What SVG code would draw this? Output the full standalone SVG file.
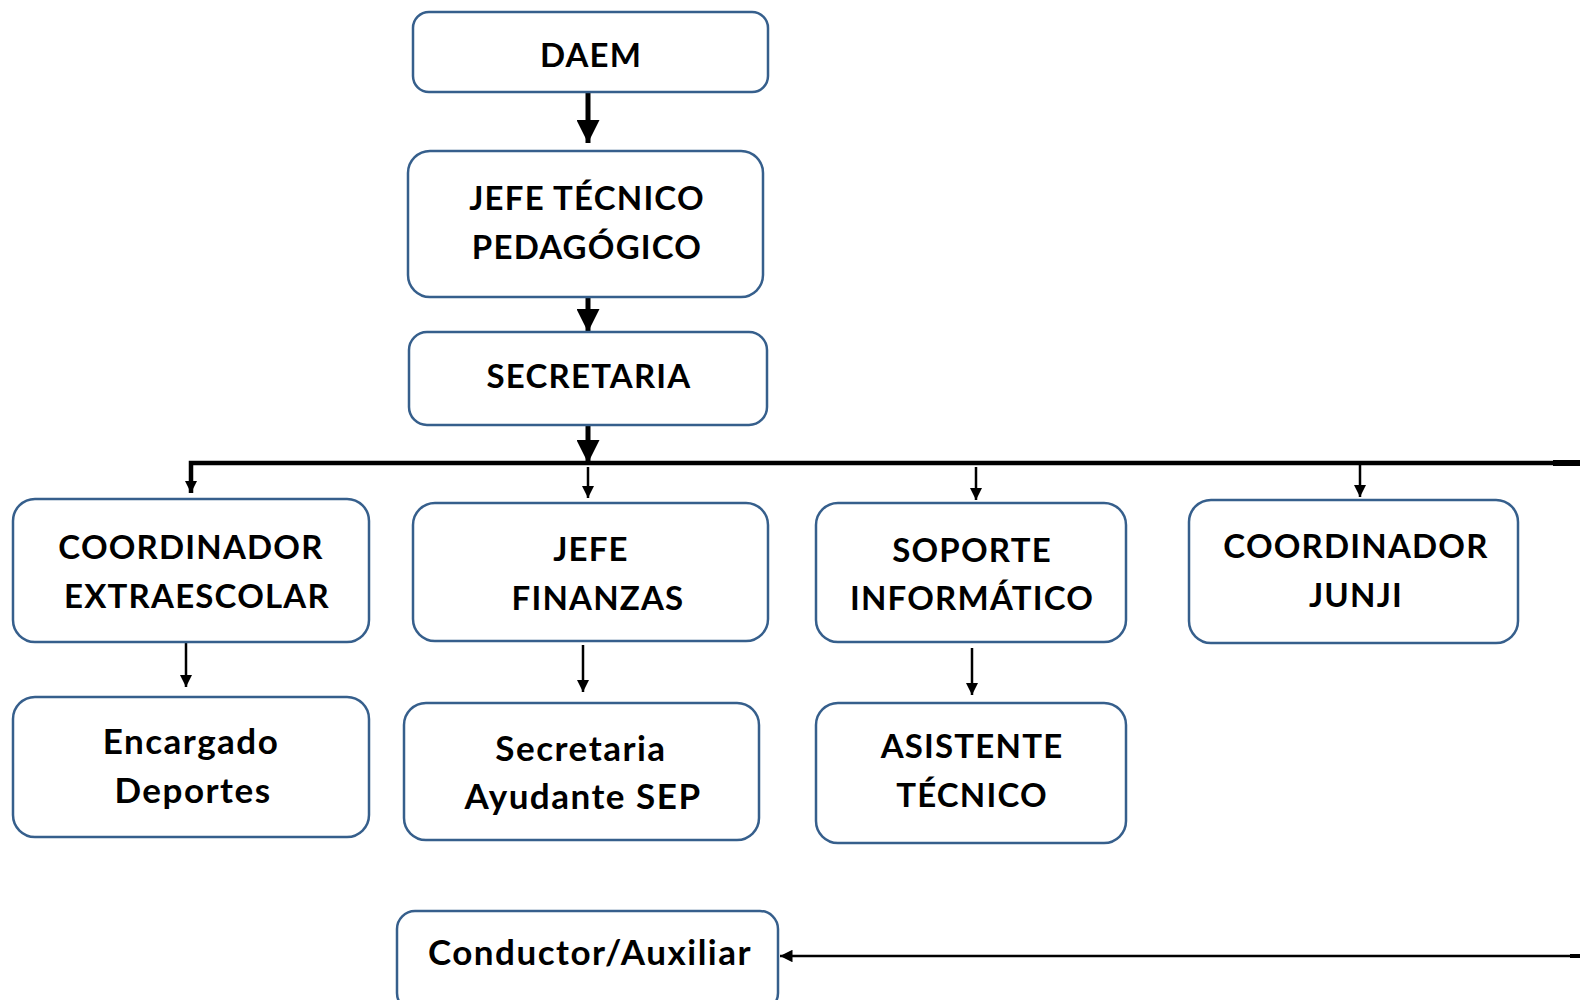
<svg xmlns="http://www.w3.org/2000/svg" width="1580" height="1000" viewBox="0 0 1580 1000">
<style>
.box{fill:#ffffff;stroke:#365f8c;stroke-width:2.5}
.t{font-family:Lato,"Open Sans","Liberation Sans",sans-serif;font-weight:700;font-size:33px;fill:#000;text-anchor:middle;letter-spacing:1.2px}
.l{font-size:35px;letter-spacing:1.5px}
.thick{stroke:#000;stroke-width:5;fill:none}
.thin{stroke:#000;stroke-width:2.5;fill:none}
</style>
<defs>
<marker id="big" viewBox="0 0 10 10" refX="10" refY="5" markerWidth="4.6" markerHeight="4.6" markerUnits="strokeWidth" orient="auto">
<path d="M0,0 L10,5 L0,10 z" fill="#000"/>
</marker>
<marker id="small" viewBox="0 0 10 10" refX="10" refY="5" markerWidth="5" markerHeight="5" markerUnits="strokeWidth" orient="auto">
<path d="M0,0 L10,5 L0,10 z" fill="#000"/>
</marker>
</defs>
<rect width="1580" height="1000" fill="#ffffff"/>
<g id="connectors">
<line class="thick" x1="588" y1="92" x2="588" y2="143" marker-end="url(#big)"/>
<line class="thick" x1="588" y1="283" x2="588" y2="332" marker-end="url(#big)"/>
<line class="thick" x1="588" y1="422" x2="588" y2="463" marker-end="url(#big)"/>
<polyline points="191,493 191,463 1580,463" style="stroke:#000;stroke-width:4.5;fill:none"/>
<line x1="1553" y1="463" x2="1580" y2="463" style="stroke:#000;stroke-width:6"/>
<line class="thin" x1="191" y1="463" x2="191" y2="493" marker-end="url(#small)"/>
<line class="thin" x1="588" y1="467" x2="588" y2="498" marker-end="url(#small)"/>
<line class="thin" x1="976" y1="467" x2="976" y2="500" marker-end="url(#small)"/>
<line class="thin" x1="1360" y1="465" x2="1360" y2="497" marker-end="url(#small)"/>
<line class="thin" x1="186" y1="640" x2="186" y2="687" marker-end="url(#small)"/>
<line class="thin" x1="583" y1="645" x2="583" y2="692" marker-end="url(#small)"/>
<line class="thin" x1="972" y1="648" x2="972" y2="695" marker-end="url(#small)"/>
<line class="thin" x1="1580" y1="956" x2="780" y2="956" marker-end="url(#small)"/>
<line x1="1570" y1="956" x2="1580" y2="956" style="stroke:#000;stroke-width:4"/>
</g>
<g id="daem">
<rect class="box" x="413" y="12" width="355" height="80" rx="16"/>
<text class="t" x="591" y="67">DAEM</text>
</g>
<g id="jefe-tecnico">
<rect class="box" x="408" y="151" width="355" height="146" rx="22"/>
<text class="t" x="587" y="210">JEFE TÉCNICO</text>
<text class="t" x="587" y="259">PEDAGÓGICO</text>
</g>
<g id="secretaria">
<rect class="box" x="409" y="332" width="358" height="93" rx="18"/>
<text class="t" x="589" y="388">SECRETARIA</text>
</g>
<g id="coord-extra">
<rect class="box" x="13" y="499" width="356" height="143" rx="22"/>
<text class="t" x="191" y="559">COORDINADOR</text>
<text class="t" x="197" y="608">EXTRAESCOLAR</text>
</g>
<g id="jefe-finanzas">
<rect class="box" x="413" y="503" width="355" height="138" rx="22"/>
<text class="t" x="591" y="561">JEFE</text>
<text class="t" x="598" y="610">FINANZAS</text>
</g>
<g id="soporte">
<rect class="box" x="816" y="503" width="310" height="139" rx="22"/>
<text class="t" x="972" y="562">SOPORTE</text>
<text class="t" x="972" y="610">INFORMÁTICO</text>
</g>
<g id="coord-junji">
<rect class="box" x="1189" y="500" width="329" height="143" rx="22"/>
<text class="t" x="1356" y="558">COORDINADOR</text>
<text class="t" x="1356" y="607">JUNJI</text>
</g>
<g id="encargado">
<rect class="box" x="13" y="697" width="356" height="140" rx="22"/>
<text class="t l" x="191" y="754">Encargado</text>
<text class="t l" x="193" y="803">Deportes</text>
</g>
<g id="secretaria-sep">
<rect class="box" x="404" y="703" width="355" height="137" rx="22"/>
<text class="t l" x="581" y="761">Secretaria</text>
<text class="t l" x="583" y="809">Ayudante SEP</text>
</g>
<g id="asistente">
<rect class="box" x="816" y="703" width="310" height="140" rx="22"/>
<text class="t" x="972" y="758">ASISTENTE</text>
<text class="t" x="972" y="807">TÉCNICO</text>
</g>
<g id="conductor">
<rect class="box" x="397" y="911" width="381" height="100" rx="18"/>
<text class="t l" x="590" y="965">Conductor/Auxiliar</text>
</g>
</svg>
